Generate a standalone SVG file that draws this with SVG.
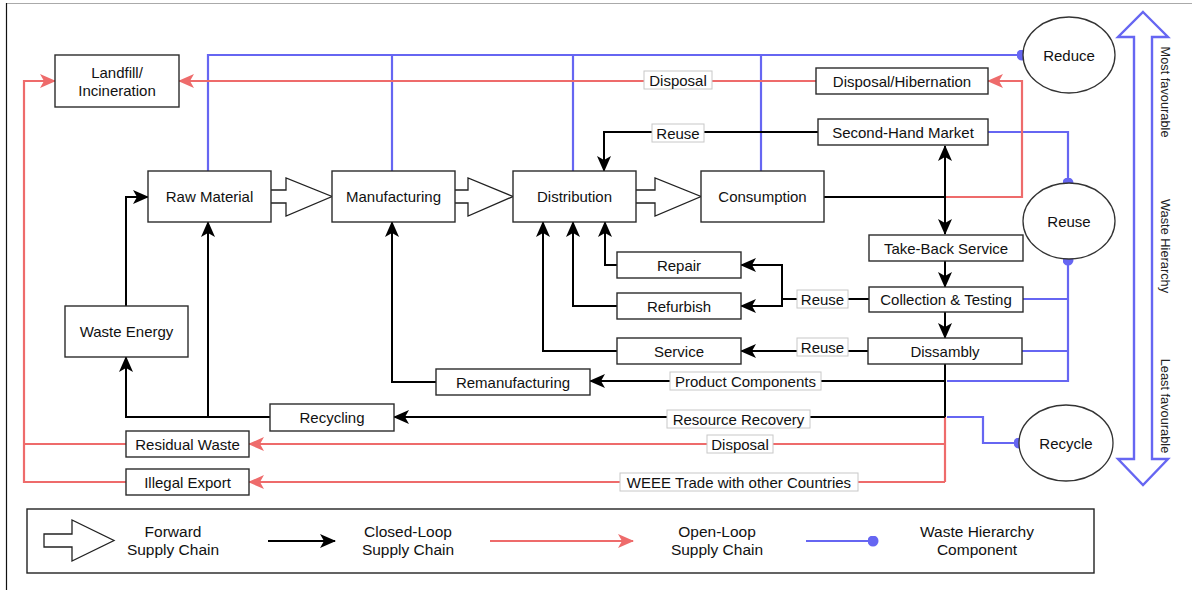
<svg xmlns="http://www.w3.org/2000/svg" width="1200" height="590" viewBox="0 0 1200 590">
  <defs>
    <style>
      text { font-family: "Liberation Sans", Arial, Helvetica, sans-serif; fill: #111; }
      .box { fill: #fff; stroke: #2b2b2b; stroke-width: 1.4; }
      .nt { font-size: 15px; text-anchor: middle; dominant-baseline: central; }
      .lbl { fill: #fff; stroke: #c8c8c8; stroke-width: 1; }
      .lt { font-size: 15px; text-anchor: middle; dominant-baseline: central; }
      .blk { fill: none; stroke: #000; stroke-width: 2; }
      .red { fill: none; stroke: #EE6B6B; stroke-width: 2.2; }
      .blu { fill: none; stroke: #6666F2; stroke-width: 2.2; }
      .fwd { fill: #fff; stroke: #222; stroke-width: 1.3; }
      .ell { fill: #fff; stroke: #333; stroke-width: 1.3; }
      .vt { font-size: 12.8px; text-anchor: middle; dominant-baseline: central; fill: #222; }
      .lg { font-size: 15.5px; text-anchor: middle; fill: #111; }
    </style>
    <marker id="ab" viewBox="0 0 16 14" refX="15" refY="7" markerWidth="16" markerHeight="14" markerUnits="userSpaceOnUse" orient="auto-start-reverse">
      <path d="M0,0 L16,7 L0,14 L4,7 Z" fill="#000"/>
    </marker>
    <marker id="ar" viewBox="0 0 16 14" refX="15" refY="7" markerWidth="16" markerHeight="14" markerUnits="userSpaceOnUse" orient="auto">
      <path d="M0,0 L16,7 L0,14 L4,7 Z" fill="#EE6B6B"/>
    </marker>
    <marker id="dot" viewBox="0 0 10 10" refX="5" refY="5" markerWidth="11" markerHeight="11" markerUnits="userSpaceOnUse">
      <circle cx="5" cy="5" r="5" fill="#6666F2"/>
    </marker>
  </defs>

  <rect width="1200" height="590" fill="#fff"/>
  <!-- page frame -->
  <line x1="6" y1="3.5" x2="1192" y2="3.5" stroke="#aaa" stroke-width="1"/>
  <line x1="6.5" y1="3" x2="6.5" y2="590" stroke="#111" stroke-width="1.2"/>

  <g id="connectors">
    <!-- waste hierarchy links -->
    <path class="blu" d="M208,171 V55 H1022" marker-end="url(#dot)"/>
    <path class="blu" d="M392,171 V55"/>
    <path class="blu" d="M573,171 V55"/>
    <path class="blu" d="M761,171 V55"/>
    <path class="blu" d="M988,132 H1068 V183" marker-end="url(#dot)"/>
    <path class="blu" d="M1023,299 H1068"/>
    <path class="blu" d="M1022,351 H1068"/>
    <path class="blu" d="M947,381 H1068 V260" marker-end="url(#dot)"/>
    <path class="blu" d="M947,417 H983 V443 H1019" marker-end="url(#dot)"/>

    <!-- open-loop links -->
    <path class="red" d="M816,81 H179" marker-end="url(#ar)"/>
    <path class="red" d="M945,197 H1022 V81 H988" marker-end="url(#ar)"/>
    <path class="red" d="M945,417 V482"/>
    <path class="red" d="M945,444 H249" marker-end="url(#ar)"/>
    <path class="red" d="M945,482 H249" marker-end="url(#ar)"/>
    <path class="red" d="M126,444 H24"/>
    <path class="red" d="M126,482 H24 V81 H55" marker-end="url(#ar)"/>

    <!-- closed-loop links -->
    <path class="blk" d="M818,132 H604 V171" marker-end="url(#ab)"/>
    <path class="blk" d="M945,146 V234" stroke-width="3" marker-start="url(#ab)" marker-end="url(#ab)"/>
    <path class="blk" d="M945,261 V287" stroke-width="2.5" marker-end="url(#ab)"/>
    <path class="blk" d="M945,312 V338" stroke-width="2.5" marker-end="url(#ab)"/>
    <path class="blk" d="M824,197 H945"/>
    <path class="blk" d="M869,299 H782 V265 H741" marker-end="url(#ab)"/>
    <path class="blk" d="M782,299 V306 H741" marker-end="url(#ab)"/>
    <path class="blk" d="M868,351 H741" marker-end="url(#ab)"/>
    <path class="blk" d="M617,265 H605 V222" marker-end="url(#ab)"/>
    <path class="blk" d="M617,306 H573 V222" marker-end="url(#ab)"/>
    <path class="blk" d="M617,351 H543 V222" marker-end="url(#ab)"/>
    <path class="blk" d="M945,364 V417" stroke-width="3.5"/>
    <path class="blk" d="M945,381 H590" marker-end="url(#ab)"/>
    <path class="blk" d="M436,382 H392 V222" marker-end="url(#ab)"/>
    <path class="blk" d="M945,417 H394" marker-end="url(#ab)"/>
    <path class="blk" d="M270,417 H126 V357" marker-end="url(#ab)"/>
    <path class="blk" d="M208,417 V222" marker-end="url(#ab)"/>
    <path class="blk" d="M126,306 V197 H148" marker-end="url(#ab)"/>

    <!-- forward supply chain block arrows -->
    <path class="fwd" d="M271,190 H286 V178 L332,196.5 L286,216 V203 H271"/>
    <path class="fwd" d="M455,190 H468 V178 L513,196.5 L468,216 V203 H455"/>
    <path class="fwd" d="M636,190 H655 V178 L701,196.5 L655,216 V203 H636"/>

    <!-- link labels -->
    <rect class="lbl" x="644" y="71" width="68" height="18"/>
    <text class="lt" x="678" y="80">Disposal</text>
    <rect class="lbl" x="652" y="124" width="52" height="18"/>
    <text class="lt" x="678" y="133">Reuse</text>
    <rect class="lbl" x="797" y="290" width="51" height="18"/>
    <text class="lt" x="822.5" y="299">Reuse</text>
    <rect class="lbl" x="797" y="338" width="51" height="18"/>
    <text class="lt" x="822.5" y="347">Reuse</text>
    <rect class="lbl" x="670" y="372" width="151" height="18"/>
    <text class="lt" x="745.5" y="381">Product Components</text>
    <rect class="lbl" x="667" y="410" width="143" height="18"/>
    <text class="lt" x="738.5" y="419">Resource Recovery</text>
    <rect class="lbl" x="707" y="435" width="66" height="18"/>
    <text class="lt" x="740" y="444">Disposal</text>
    <rect class="lbl" x="620" y="473" width="238" height="18"/>
    <text class="lt" x="739" y="482">WEEE Trade with other Countries</text>
  </g>

  <g id="landfill"><rect class="box" x="55" y="55" width="124" height="52"/>
    <text class="nt" x="117" y="72">Landfill/</text><text class="nt" x="117" y="90">Incineration</text></g>
  <g id="raw-material"><rect class="box" x="148" y="171" width="123" height="51"/><text class="nt" x="209.5" y="196.5">Raw Material</text></g>
  <g id="manufacturing"><rect class="box" x="332" y="171" width="123" height="51"/><text class="nt" x="393.5" y="196.5">Manufacturing</text></g>
  <g id="distribution"><rect class="box" x="513" y="171" width="123" height="51"/><text class="nt" x="574.5" y="196.5">Distribution</text></g>
  <g id="consumption"><rect class="box" x="701" y="171" width="123" height="51"/><text class="nt" x="762.5" y="196.5">Consumption</text></g>
  <g id="disposal-hibernation"><rect class="box" x="816" y="68" width="172" height="26"/><text class="nt" x="902" y="81">Disposal/Hibernation</text></g>
  <g id="second-hand"><rect class="box" x="818" y="119" width="170" height="26"/><text class="nt" x="903" y="132">Second-Hand Market</text></g>
  <g id="take-back"><rect class="box" x="869" y="235" width="154" height="26"/><text class="nt" x="946" y="248">Take-Back Service</text></g>
  <g id="collection"><rect class="box" x="869" y="287" width="154" height="25"/><text class="nt" x="946" y="299.5">Collection &amp; Testing</text></g>
  <g id="dissambly"><rect class="box" x="868" y="338" width="154" height="26"/><text class="nt" x="945" y="351">Dissambly</text></g>
  <g id="repair"><rect class="box" x="617" y="252" width="124" height="26"/><text class="nt" x="679" y="265">Repair</text></g>
  <g id="refurbish"><rect class="box" x="617" y="293" width="124" height="26"/><text class="nt" x="679" y="306">Refurbish</text></g>
  <g id="service"><rect class="box" x="617" y="338" width="124" height="26"/><text class="nt" x="679" y="351">Service</text></g>
  <g id="remanufacturing"><rect class="box" x="436" y="369" width="154" height="26"/><text class="nt" x="513" y="382">Remanufacturing</text></g>
  <g id="recycling"><rect class="box" x="270" y="404" width="124" height="27"/><text class="nt" x="332" y="417.5">Recycling</text></g>
  <g id="waste-energy"><rect class="box" x="65" y="306" width="123" height="51"/><text class="nt" x="126.5" y="331.5">Waste Energy</text></g>
  <g id="residual-waste"><rect class="box" x="126" y="431" width="123" height="26"/><text class="nt" x="187.5" y="444">Residual Waste</text></g>
  <g id="illegal-export"><rect class="box" x="126" y="469" width="123" height="26"/><text class="nt" x="187.5" y="482">Illegal Export</text></g>

  <g id="reduce"><ellipse class="ell" cx="1069" cy="55" rx="46" ry="38"/><text class="nt" x="1069" y="55">Reduce</text></g>
  <g id="reuse"><ellipse class="ell" cx="1069" cy="221" rx="46" ry="38"/><text class="nt" x="1069" y="221">Reuse</text></g>
  <g id="recycle"><ellipse class="ell" cx="1066" cy="443" rx="47" ry="38"/><text class="nt" x="1066" y="443">Recycle</text></g>

  <!-- waste hierarchy scale -->
  <g id="hierarchy-scale">
    <path d="M1143,12 L1168,37 L1152,37 L1152,459 L1168,459 L1143,485 L1118,459 L1134,459 L1134,37 L1118,37 Z" fill="#fff" stroke="#6666F2" stroke-width="2.4" stroke-linejoin="miter"/>
    <text class="vt" transform="translate(1165,92) rotate(90)">Most favourable</text>
    <text class="vt" transform="translate(1165,246) rotate(90)">Waste Hierarchy</text>
    <text class="vt" transform="translate(1165,406) rotate(90)">Least favourable</text>
  </g>

  <g id="legend">
    <rect x="27" y="509" width="1067" height="64" fill="#fff" stroke="#222" stroke-width="1.4"/>
    <path class="fwd" d="M44,534 H72 V520 L114,540.5 L72,561 V547 H44 Z" stroke-width="1.6"/>
    <text class="lg" x="173" y="537">Forward</text>
    <text class="lg" x="173" y="555">Supply Chain</text>
    <line x1="268" y1="541" x2="335" y2="541" stroke="#000" stroke-width="2" marker-end="url(#ab)"/>
    <text class="lg" x="408" y="537">Closed-Loop</text>
    <text class="lg" x="408" y="555">Supply Chain</text>
    <line x1="490" y1="541" x2="633" y2="541" stroke="#EE6B6B" stroke-width="2" marker-end="url(#ar)"/>
    <text class="lg" x="717" y="537">Open-Loop</text>
    <text class="lg" x="717" y="555">Supply Chain</text>
    <line x1="806" y1="541" x2="873" y2="541" stroke="#6666F2" stroke-width="2.2" marker-end="url(#dot)"/>
    <text class="lg" x="977" y="537">Waste Hierarchy</text>
    <text class="lg" x="977" y="555">Component</text>
  </g>
</svg>
